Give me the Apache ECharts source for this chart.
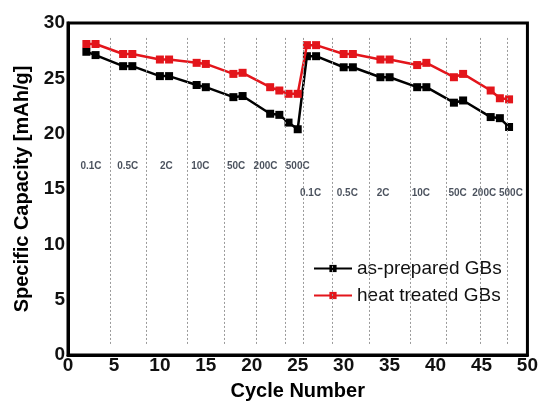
<!DOCTYPE html>
<html>
<head>
<meta charset="utf-8">
<script src="https://cdn.jsdelivr.net/npm/echarts@6/dist/echarts.min.js"></script>
<style>
  html, body { margin: 0; padding: 0; background: #fff; }
  #main { width: 541px; height: 406px; }
</style>
</head>
<body>
<div id="main"></div>
<script>
// rate capability data
var cycles = [2, 3, 6, 7, 10, 11, 14, 15, 18, 19, 22, 23, 24, 25, 26, 27, 30, 31, 34, 35, 38, 39, 42, 43, 46, 47, 48];
var asPrepared = [27.4, 27.1, 26.1, 26.1, 25.2, 25.2, 24.4, 24.2, 23.3, 23.4, 21.8, 21.7, 21.0, 20.4, 27.0, 27.0, 26.0, 26.0, 25.1, 25.1, 24.2, 24.2, 22.8, 23.0, 21.5, 21.4, 20.6];
var heatTreated = [28.1, 28.1, 27.2, 27.2, 26.7, 26.7, 26.4, 26.3, 25.4, 25.5, 24.2, 23.9, 23.6, 23.6, 28.0, 28.0, 27.2, 27.2, 26.7, 26.7, 26.2, 26.4, 25.1, 25.4, 23.9, 23.2, 23.1];

// C-rate annotations
var rates = ['0.1C', '0.5C', '2C', '10C', '50C', '200C', '500C'];
var rateX1 = [2.5, 6.5, 10.7, 14.4, 18.3, 21.5, 25.0];
var rateX2 = [26.4, 30.4, 34.3, 38.4, 42.4, 45.3, 48.2];
var rateY1 = 17.1;
var rateY2 = 14.65;

// dotted separators between rate steps
var dividers = [4.56, 8.56, 12.96, 16.96, 20.47, 23.6, 25.55, 28.76, 32.75, 37.24, 41.19, 44.82, 47.8];
var dividerLo = 1;
var dividerHi = 28.7;

var chart = echarts.init(document.getElementById('main'));

var labelPoints = [];
rates.forEach(function (r, i) {
  labelPoints.push({ name: r, value: [rateX1[i], rateY1] });
});
rates.forEach(function (r, i) {
  labelPoints.push({ name: r, value: [rateX2[i], rateY2] });
});

var narrow = 'Liberation Sans Narrow, Arial Narrow, Liberation Sans, Arial';

var option = {
  animation: false,
  backgroundColor: '#fff',
  grid: {
    left: 68, right: 11, top: 23, bottom: 43,
    show: true, borderColor: '#000', borderWidth: 3
  },
  legend: {
    orient: 'vertical',
    left: 308, top: 254,
    itemWidth: 38, itemHeight: 9, itemGap: 8,
    textStyle: { fontFamily: 'Liberation Sans, Arial', fontSize: 19, color: '#111' },
    data: ['as-prepared GBs', 'heat treated GBs']
  },
  xAxis: {
    type: 'value', min: 0, max: 50, interval: 5,
    name: 'Cycle Number', nameLocation: 'middle', nameGap: 26,
    nameTextStyle: { fontFamily: 'Liberation Sans, Arial', fontWeight: 'bold', fontSize: 20, color: '#000' },
    axisLine: { lineStyle: { color: '#000', width: 3 } },
    axisTick: { show: false },
    axisLabel: { fontFamily: narrow, fontWeight: 'bold', fontSize: 19, color: '#111', margin: 1 },
    splitLine: { show: false }
  },
  yAxis: {
    type: 'value', min: 0, max: 30, interval: 5,
    name: 'Specific Capacity [mAh/g]', nameLocation: 'middle', nameGap: 36,
    nameTextStyle: { fontFamily: 'Liberation Sans, Arial', fontWeight: 'bold', fontSize: 20, color: '#000' },
    axisLine: { lineStyle: { color: '#000', width: 3 } },
    axisTick: { show: false },
    axisLabel: { fontFamily: narrow, fontWeight: 'bold', fontSize: 19, color: '#111', margin: 3 },
    splitLine: { show: false }
  },
  series: [
    {
      name: 'as-prepared GBs',
      type: 'line',
      data: cycles.map(function (c, i) { return [c, asPrepared[i]]; }),
      symbol: 'rect', symbolSize: 8,
      itemStyle: { color: '#000' },
      lineStyle: { color: '#000', width: 2.5 },
      z: 3,
      markLine: {
        silent: true, symbol: 'none',
        label: { show: false },
        lineStyle: { color: '#9a9a9a', type: [2, 2], width: 1 },
        data: dividers.map(function (d) {
          return [{ coord: [d, dividerLo] }, { coord: [d, dividerHi] }];
        })
      }
    },
    {
      name: 'heat treated GBs',
      type: 'line',
      data: cycles.map(function (c, i) { return [c, heatTreated[i]]; }),
      symbol: 'rect', symbolSize: 8,
      itemStyle: { color: '#e3151b' },
      lineStyle: { color: '#e3151b', width: 2.5 },
      z: 4
    },
    {
      name: 'rates',
      type: 'scatter',
      data: labelPoints,
      symbolSize: 0,
      silent: true,
      label: {
        show: true, position: 'inside',
        formatter: '{b}',
        fontFamily: 'Liberation Sans, Arial', fontWeight: 'bold', fontSize: 10, color: '#1c2433'
      }
    }
  ]
};

chart.setOption(option);
</script>
</body>
</html>
